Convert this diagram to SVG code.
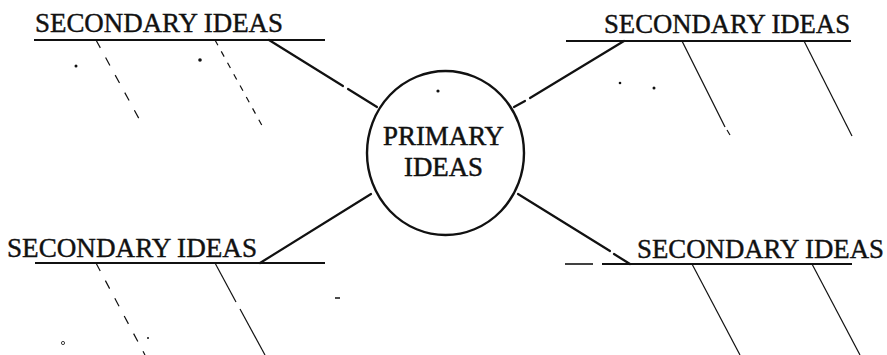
<svg xmlns="http://www.w3.org/2000/svg" width="887" height="355" viewBox="0 0 887 355">
<style>
.lbl{font-family:"Liberation Serif","Times New Roman",serif;font-size:26.5px;fill:#111;stroke:#111;stroke-width:0.4}
.pri{font-family:"Liberation Serif","Times New Roman",serif;font-size:27px;fill:#111;stroke:#111;stroke-width:0.5;text-anchor:middle}
.ul{stroke:#111;stroke-width:2.2;fill:none}
.con{stroke:#111;stroke-width:2.2;fill:none;stroke-linecap:round}
.sub{stroke:#111;stroke-width:1.2;fill:none}
.dash{stroke:#111;stroke-width:1.2;fill:none;stroke-dasharray:9 11}
.dot{fill:#111}
</style>
<rect width="887" height="355" fill="#fff"/>
<g id="primary">
<ellipse cx="445.5" cy="153" rx="78.5" ry="82" fill="none" stroke="#111" stroke-width="2.4"/>
<text class="pri" x="443.5" y="145" textLength="121" lengthAdjust="spacingAndGlyphs">PRIMARY</text>
<text class="pri" x="443.5" y="176" textLength="79" lengthAdjust="spacingAndGlyphs">IDEAS</text>
</g>
<g id="secondary-top-left">
<text class="lbl" x="35" y="32" textLength="248" lengthAdjust="spacingAndGlyphs">SECONDARY IDEAS</text>
<line class="ul" x1="34" y1="40" x2="325" y2="40"/>
<line class="dash" x1="96" y1="40" x2="143" y2="126"/>
<line class="dash" x1="215" y1="40" x2="265" y2="131" style="stroke-dasharray:6 7"/>
</g>
<g id="secondary-top-right">
<text class="lbl" x="604" y="33" textLength="246" lengthAdjust="spacingAndGlyphs">SECONDARY IDEAS</text>
<line class="ul" x1="566" y1="41" x2="851" y2="41"/>
<line class="sub" x1="682" y1="41" x2="725" y2="127"/>
<line class="sub" x1="727" y1="130" x2="730" y2="135"/>
<line class="sub" x1="804" y1="41" x2="852" y2="136"/>
</g>
<g id="secondary-bottom-left">
<text class="lbl" x="7" y="257" textLength="250" lengthAdjust="spacingAndGlyphs">SECONDARY IDEAS</text>
<line class="ul" x1="35" y1="263" x2="325" y2="263"/>
<line class="dash" x1="96" y1="263" x2="145" y2="355"/>
<line class="sub" x1="215" y1="263" x2="236" y2="302"/>
<line class="sub" x1="240" y1="309" x2="265" y2="355"/>
</g>
<g id="secondary-bottom-right">
<text class="lbl" x="637" y="258" textLength="247" lengthAdjust="spacingAndGlyphs">SECONDARY IDEAS</text>
<line class="ul" x1="565" y1="264" x2="593" y2="264" style="stroke-width:1.6"/>
<line class="ul" x1="602" y1="264" x2="852" y2="264"/>
<line class="sub" x1="692" y1="264" x2="740" y2="355"/>
<line class="sub" x1="812" y1="264" x2="860" y2="355"/>
</g>
<g id="connectors">
<line class="con" x1="269" y1="40" x2="343" y2="86"/>
<line class="con" x1="348" y1="89" x2="377" y2="107"/>
<line class="con" x1="624" y1="41" x2="530" y2="98"/>
<line class="con" x1="525" y1="101" x2="514" y2="107"/>
<line class="con" x1="260" y1="263" x2="371" y2="194"/>
<line class="con" x1="518" y1="194" x2="610" y2="251"/>
<line class="con" x1="614" y1="254" x2="630" y2="264"/>
</g>
<g id="specks">
<circle class="dot" cx="76" cy="66" r="1.5"/>
<circle class="dot" cx="200" cy="60" r="1.8"/>
<circle class="dot" cx="438" cy="91" r="1.6"/>
<circle class="dot" cx="620" cy="83" r="1.3"/>
<circle class="dot" cx="654" cy="88" r="1.5"/>
<circle cx="63" cy="343" r="1.6" fill="none" stroke="#111" stroke-width="0.8"/>
<circle class="dot" cx="148" cy="338" r="1"/>
<line x1="335" y1="298" x2="340" y2="298" stroke="#111" stroke-width="1.5"/>
</g>
</svg>
